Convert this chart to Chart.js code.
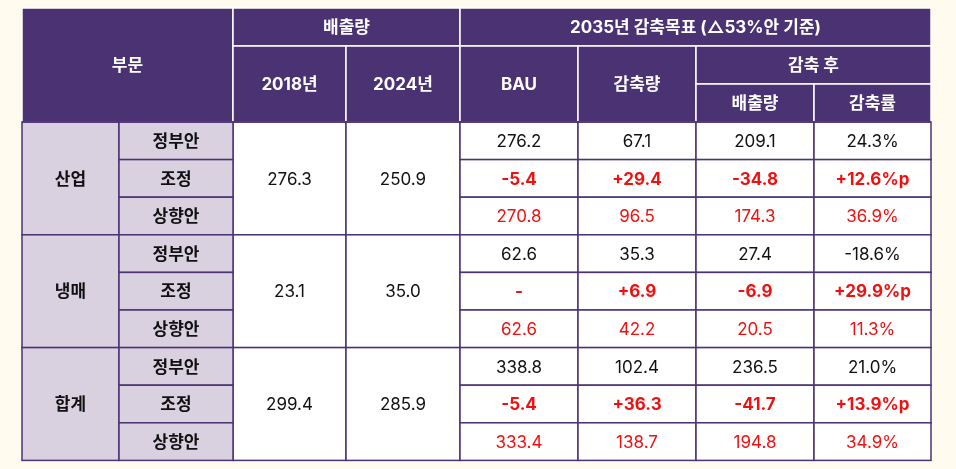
<!DOCTYPE html>
<html><head><meta charset="utf-8">
<script src="https://cdn.jsdelivr.net/npm/chart.js@4"></script>
<style>html,body{margin:0;padding:0;background:#fffbee;}#wrap{width:956px;height:469px;}</style>
</head><body><div id="wrap"><canvas id="c" width="956" height="469"></canvas></div>
<script>
// table data
const sectors = ['산업', '냉매', '합계'];
const plans = ['정부안', '조정', '상향안'];
const emit2018 = ['276.3', '23.1', '299.4'];
const emit2024 = ['250.9', '35.0', '285.9'];
const bau = [['276.2', '-5.4', '270.8'], ['62.6', '-', '62.6'], ['338.8', '-5.4', '333.4']];
const cut = [['67.1', '+29.4', '96.5'], ['35.3', '+6.9', '42.2'], ['102.4', '+36.3', '138.7']];
const after = [['209.1', '-34.8', '174.3'], ['27.4', '-6.9', '20.5'], ['236.5', '-41.7', '194.8']];
const rate = [['24.3%', '+12.6%p', '36.9%'], ['-18.6%', '+29.9%p', '11.3%'], ['21.0%', '+13.9%p', '34.9%']];

// layout (pixel units on hidden linear scales)
const colX = [22, 119, 233, 346, 460, 578, 696, 814, 931];
const headY = [8, 46, 84, 122];
const rowH = 37.6;
const PURPLE = '#4b3373', LIGHT = '#d9d1df', RED = '#f01010';
const FONT = "Inter, 'Noto Sans CJK KR', sans-serif";

const tablePlugin = {
  id: 'table',
  afterDraw(chart) {
    const ctx = chart.ctx, xs = chart.scales.x, ys = chart.scales.y;
    const X = v => xs.getPixelForValue(v), Y = v => ys.getPixelForValue(v);
    function cell(c0, c1, y0, y1, fill, text, color, bold, line) {
      const x0 = X(colX[c0]), x1 = X(colX[c1]), t = Y(y0), b = Y(y1);
      ctx.fillStyle = fill;
      ctx.fillRect(x0, t, x1 - x0, b - t);
      ctx.strokeStyle = line;
      ctx.lineWidth = 1.5;
      ctx.strokeRect(x0, t, x1 - x0, b - t);
      if (text) {
        ctx.fillStyle = color;
        ctx.font = (bold ? 'bold ' : '') + '17px ' + FONT;
        ctx.textAlign = 'center';
        ctx.textBaseline = 'middle';
        ctx.fillText(text, (x0 + x1) / 2, (t + b) / 2 + 1);
      }
    }
    const H = (c0, c1, y0, y1, t) => cell(c0, c1, y0, y1, PURPLE, t, '#fff', true, '#ffffff');
    // header
    H(0, 2, headY[0], headY[3], '부문');
    H(2, 4, headY[0], headY[1], '배출량');
    H(2, 3, headY[1], headY[3], '2018년');
    H(3, 4, headY[1], headY[3], '2024년');
    H(4, 8, headY[0], headY[1], '2035년 감축목표 (△53%안 기준)');
    H(4, 5, headY[1], headY[3], 'BAU');
    H(5, 6, headY[1], headY[3], '감축량');
    H(6, 8, headY[1], headY[2], '감축 후');
    H(6, 7, headY[2], headY[3], '배출량');
    H(7, 8, headY[2], headY[3], '감축률');
    // body
    sectors.forEach((s, i) => {
      const top = headY[3] + i * 3 * rowH, bot = top + 3 * rowH;
      cell(0, 1, top, bot, LIGHT, s, '#111', true, PURPLE);
      cell(2, 3, top, bot, '#fff', emit2018[i], '#111', false, PURPLE);
      cell(3, 4, top, bot, '#fff', emit2024[i], '#111', false, PURPLE);
      plans.forEach((p, j) => {
        const y0 = top + j * rowH, y1 = y0 + rowH;
        const color = j === 0 ? '#111' : RED, bold = j === 1;
        cell(1, 2, y0, y1, LIGHT, p, '#111', true, PURPLE);
        [bau, cut, after, rate].forEach((arr, k) => {
          cell(4 + k, 5 + k, y0, y1, '#fff', arr[i][j], color, bold, PURPLE);
        });
      });
    });
    // outer header edge line on top of white lines
    ctx.strokeStyle = PURPLE;
    ctx.lineWidth = 1.5;
    ctx.beginPath();
    ctx.moveTo(X(colX[0]), Y(headY[3])); ctx.lineTo(X(colX[8]), Y(headY[3]));
    ctx.stroke();
  }
};

new Chart(document.getElementById('c'), {
  type: 'scatter',
  data: { datasets: [{ data: [] }] },
  options: {
    responsive: false,
    animation: false,
    layout: { padding: 0 },
    plugins: { legend: { display: false }, tooltip: { enabled: false } },
    scales: {
      x: { type: 'linear', min: 0, max: 956, display: false },
      y: { type: 'linear', min: 0, max: 469, reverse: true, display: false }
    }
  },
  plugins: [tablePlugin]
});
</script>
</body></html>
